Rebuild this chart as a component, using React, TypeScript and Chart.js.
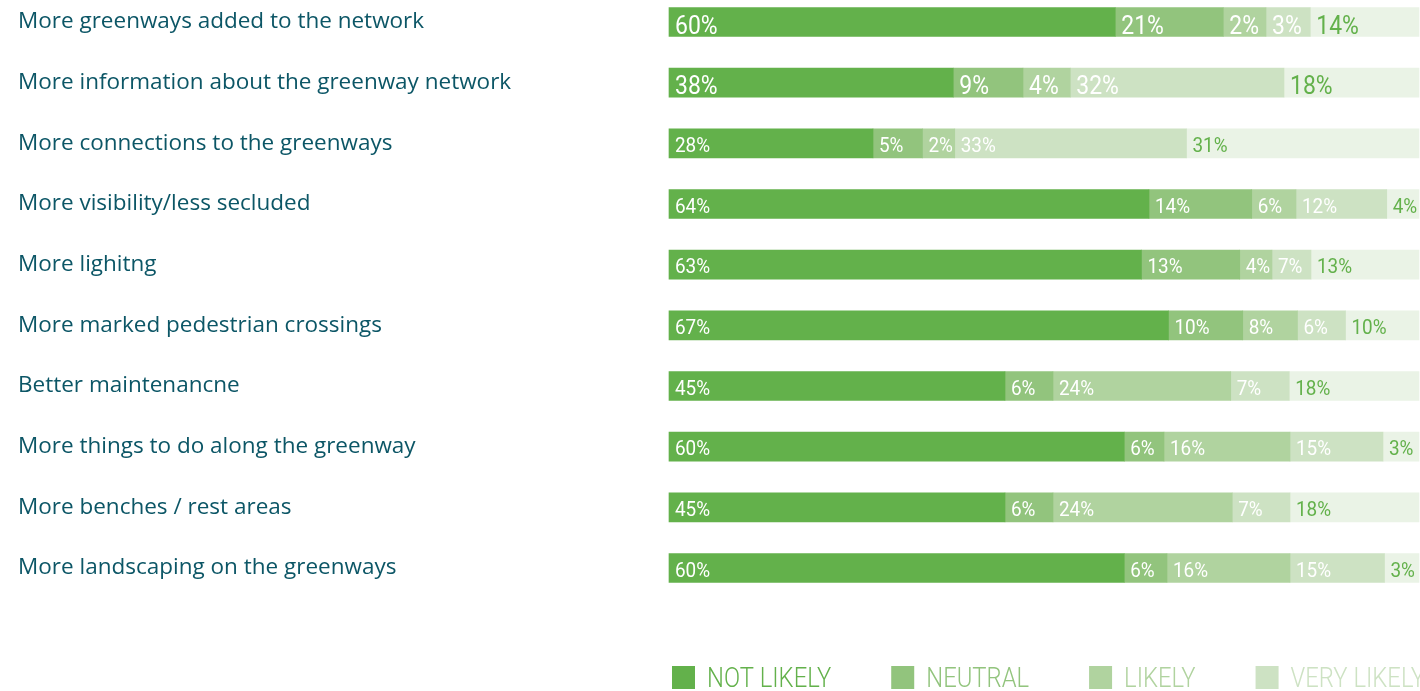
import React, { useEffect, useRef } from "react";
import { Chart, registerables } from "chart.js";

Chart.register(...registerables);

const categories = [
  "More greenways added to the network",
  "More information about the greenway network",
  "More connections to the greenways",
  "More visibility/less secluded",
  "More lighitng",
  "More marked pedestrian crossings",
  "Better maintenancne",
  "More things to do along the greenway",
  "More benches / rest areas",
  "More landscaping on the greenways",
];

const seriesNames = ["NOT LIKELY", "NEUTRAL", "LIKELY", "VERY LIKELY", "NO ANSWER"];

// Segment lengths as drawn in the picture (share of the full bar)
const notLikely = [59.5, 37.9, 27.2, 64.0, 63.0, 66.6, 44.8, 60.7, 44.8, 60.7];
const neutral = [14.4, 9.3, 6.6, 13.7, 13.1, 9.9, 6.4, 5.3, 6.4, 5.7];
const likely = [5.7, 6.3, 4.3, 5.9, 4.3, 7.3, 23.7, 16.8, 23.9, 16.4];
const veryLikely = [5.9, 28.5, 30.9, 12.1, 5.2, 6.4, 7.8, 12.4, 7.7, 12.6];
const remainder = [14.5, 18.0, 31.0, 4.3, 14.4, 9.8, 17.3, 4.8, 17.2, 4.6];

// Percentages printed on the segments
const notLikelyLabels = [60, 38, 28, 64, 63, 67, 45, 60, 45, 60];
const neutralLabels = [21, 9, 5, 14, 13, 10, 6, 6, 6, 6];
const likelyLabels = [2, 4, 2, 6, 4, 8, 24, 16, 24, 16];
const veryLikelyLabels = [3, 32, 33, 12, 7, 6, 7, 15, 7, 15];
const remainderLabels = [14, 18, 31, 4, 13, 10, 18, 3, 18, 3];

const COLORS = ["#63b14b", "#92c47d", "#b0d39f", "#cde2c3", "#eaf3e6"];
const LABEL_COLORS = ["#ffffff", "#ffffff", "#ffffff", "#ffffff", "#63b14b"];
const COND = 'Roboto, "Noto Sans", sans-serif';

function drawCondensed(ctx: CanvasRenderingContext2D, text: string, x: number, y: number, sx: number) {
  ctx.save();
  ctx.translate(x, y);
  ctx.scale(sx, 1);
  ctx.fillText(text, 0, 0);
  ctx.restore();
  return ctx.measureText(text).width * sx;
}

const valueLabelPlugin = {
  id: "valueLabels",
  afterDatasetsDraw(chart: any) {
    const ctx = chart.ctx;
    ctx.save();
    ctx.textAlign = "left";
    ctx.textBaseline = "alphabetic";
    chart.data.datasets.forEach((ds: any, di: number) => {
      const meta = chart.getDatasetMeta(di);
      meta.data.forEach((el: any, i: number) => {
        const big = i < 2;
        ctx.font = `${big ? 25.5 : 21}px ${COND}`;
        ctx.fillStyle = ds.labelColor;
        const left = Math.min(el.x, el.base);
        drawCondensed(ctx, ds.valueLabels[i] + "%", left + 6, el.y + (big ? 11.5 : 8.5), big ? 0.9 : 0.9);
      });
    });
    ctx.restore();
  },
};

const legendPlugin = {
  id: "bottomLegend",
  afterDraw(chart: any) {
    const ctx = chart.ctx;
    ctx.save();
    ctx.font = `300 28px ${COND}`;
    ctx.textAlign = "left";
    ctx.textBaseline = "alphabetic";
    let x = chart.chartArea.left + 3;
    const top = chart.height - 25;
    chart.data.datasets.slice(0, 4).forEach((ds: any) => {
      ctx.fillStyle = ds.backgroundColor;
      ctx.fillRect(x, top, 23, 23);
      const w = drawCondensed(ctx, ds.label, x + 35, top + 21, 0.85);
      x += 35 + w + 60;
    });
    ctx.restore();
  },
};

export default function App() {
  const ref = useRef<HTMLCanvasElement>(null);

  useEffect(() => {
    if (!ref.current) return;
    const values = [notLikely, neutral, likely, veryLikely, remainder];
    const printed = [notLikelyLabels, neutralLabels, likelyLabels, veryLikelyLabels, remainderLabels];
    const chart = new Chart(ref.current, {
      type: "bar",
      data: {
        labels: categories,
        datasets: values.map((v, k) => ({
          label: seriesNames[k],
          data: v,
          backgroundColor: COLORS[k],
          borderWidth: 0,
          barThickness: 29,
          clip: false,
          valueLabels: printed[k],
          labelColor: LABEL_COLORS[k],
        })) as any,
      },
      options: {
        indexAxis: "y",
        responsive: false,
        animation: false,
        devicePixelRatio: 1,
        layout: { padding: { left: 18, right: 1, top: 22, bottom: 123 } },
        plugins: { legend: { display: false }, tooltip: { enabled: false } },
        scales: {
          x: { type: "linear", stacked: true, min: 0, max: 100, display: false },
          y: {
            type: "category",
            stacked: true,
            offset: false,
            grid: { display: false },
            border: { display: false },
            ticks: {
              autoSkip: false,
              crossAlign: "far",
              padding: 0,
              color: "#0c5666",
              font: { family: '"Open Sans", sans-serif', size: 22.5 },
            },
            afterFit: (scale: any) => {
              scale.width = 651;
            },
          },
        },
      } as any,
      plugins: [valueLabelPlugin, legendPlugin],
    });
    return () => chart.destroy();
  }, []);

  return (
    <div style={{ position: "fixed", left: 0, top: 0, width: 1420, height: 691, background: "#fff" }}>
      <canvas ref={ref} width={1420} height={691} />
    </div>
  );
}
